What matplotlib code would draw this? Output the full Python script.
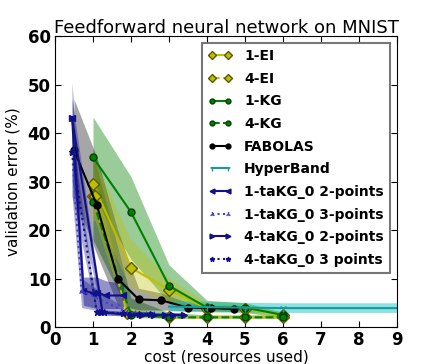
import numpy as np
import matplotlib
matplotlib.use("Agg")
import matplotlib.pyplot as plt

# values (cost, mean error, upper, lower)
ei1_x = [1, 2, 3, 4, 5, 6]
ei1_y = [29.5, 12.2, 7.7, 3.8, 3.8, 2.5]
ei1_hi = [35, 18, 10, 5, 5, 3.2]
ei1_lo = [24, 8, 5, 3, 3, 2]

ei4_x = [1, 1.05, 1.9, 3, 4, 5, 6]
ei4_y = [27, 27, 2.8, 2.0, 2.0, 2.0, 2.0]
ei4_hi = [31, 31, 4, 2.5, 2.5, 2.5, 2.5]
ei4_lo = [22, 22, 2, 1.8, 1.8, 1.8, 1.8]

kg1_x = [1, 2, 3, 4, 5, 6]
kg1_y = [35, 23.7, 8.5, 4.0, 4.0, 2.5]
kg1_hi = [43.3, 31, 12.8, 5.5, 5.0, 3.0]
kg1_lo = [27, 14, 5, 3.5, 3.0, 2.0]

kg4_x = [1, 2, 3, 4, 5, 6]
kg4_y = [25.8, 2.5, 2.0, 2.0, 2.0, 2.0]
kg4_hi = [36, 6, 3, 2.5, 2.5, 2.5]
kg4_lo = [18, 2, 1.8, 1.8, 1.8, 1.8]

fab_x = [0.5, 1.1, 1.65, 2.2, 2.8, 3.5, 4.1, 4.7]
fab_y = [36.5, 25.2, 10, 5.7, 5.5, 4.0, 3.9, 3.7]
fab_hi = [47, 35, 20, 8, 7, 5, 4.5, 4.5]
fab_lo = [27, 15, 4.5, 3.5, 3.5, 3.3, 3.3, 3.2]

hb_x = [3, 4, 5, 6, 7, 8, 9]
hb_y = [4.2, 4.1, 4.0, 3.9, 3.9, 3.9, 3.9]
hb_hi = [5.5, 5.3, 5.1, 5.0, 5.0, 5.0, 5.0]
hb_lo = [3.3, 3.2, 3.1, 3.0, 3.0, 3.0, 3.0]

tk1_2_x = [0.45, 0.75, 1.0, 1.1, 1.35, 1.8]
tk1_2_y = [43, 7.5, 7.0, 7.0, 6.5, 6.5]
tk1_2_hi = [50.5, 10.3, 10.3, 10.3, 9.5, 9.0]
tk1_2_lo = [36, 4.5, 4.0, 3.8, 3.8, 3.8]

tk1_3_x = [0.45, 0.7, 1.9, 2.1, 2.4, 2.6]
tk1_3_y = [36, 7.5, 3.0, 2.8, 2.7, 2.7]
tk1_3_hi = [42, 10, 3.5, 3.3, 3.2, 3.2]
tk1_3_lo = [27, 4, 2.3, 2.3, 2.3, 2.3]

tk4_2_x = [0.45, 1.25, 2.0, 2.3, 2.6, 2.9, 3.1, 3.4]
tk4_2_y = [43, 3.0, 2.5, 2.5, 2.5, 2.5, 2.5, 2.5]
tk4_2_hi = [47, 3.5, 3.0, 3.0, 3.0, 3.0, 3.0, 3.0]
tk4_2_lo = [30, 2.5, 2.2, 2.2, 2.2, 2.2, 2.2, 2.2]

tk4_3_x = [0.45, 1.1, 1.3, 1.8, 2.2, 2.5]
tk4_3_y = [36, 3.0, 3.0, 2.8, 2.7, 2.7]
tk4_3_hi = [40, 3.5, 3.5, 3.3, 3.2, 3.2]
tk4_3_lo = [27, 2.5, 2.5, 2.3, 2.3, 2.3]

plt.rcParams['font.family'] = 'DejaVu Sans'
plt.rcParams['xtick.direction'] = 'in'
plt.rcParams['ytick.direction'] = 'in'

fig = plt.figure(figsize=(4.41, 3.64), dpi=100)
ax = fig.add_axes([0.1247, 0.1016, 0.7755, 0.7994])

yel = '#bfbf00'
grn = '#008000'
blu = '#10108a'
tea = '#1a9a9a'

ax.fill_between(kg1_x, kg1_lo, kg1_hi, color=grn, alpha=0.4, lw=0)
ax.fill_between(kg4_x, kg4_lo, kg4_hi, color=grn, alpha=0.4, lw=0)
ax.fill_between(fab_x, fab_lo, fab_hi, color='k', alpha=0.35, lw=0)
ax.fill_between(ei1_x, ei1_lo, ei1_hi, color=yel, alpha=0.35, lw=0)
ax.fill_between(ei4_x, ei4_lo, ei4_hi, color=yel, alpha=0.35, lw=0)
ax.fill_between(hb_x, hb_lo, hb_hi, color='c', alpha=0.45, lw=0)
ax.fill_between(tk1_2_x, tk1_2_lo, tk1_2_hi, color=blu, alpha=0.45, lw=0)
ax.fill_between(tk1_3_x, tk1_3_lo, tk1_3_hi, color=blu, alpha=0.35, lw=0)
ax.fill_between(tk4_2_x, tk4_2_lo, tk4_2_hi, color=blu, alpha=0.35, lw=0)
ax.fill_between(tk4_3_x, tk4_3_lo, tk4_3_hi, color=blu, alpha=0.35, lw=0)

ax.plot(ei1_x, ei1_y, '-', color=yel, marker='D', ms=6, mfc=yel, mec='#5a5a00', label='1-EI')
ax.plot(ei4_x, ei4_y, '--', color=yel, marker='D', ms=6, mfc=yel, mec='#5a5a00', lw=1.5, label='4-EI')
ax.plot(kg1_x, kg1_y, '-', color=grn, marker='o', ms=5, mfc=grn, mec='#004000', label='1-KG')
ax.plot(kg4_x, kg4_y, '--', color=grn, marker='o', ms=5, mfc=grn, mec='#004000', lw=1.5, label='4-KG')
ax.plot(fab_x, fab_y, '-', color='k', marker='o', ms=5, label='FABOLAS')
ax.plot(hb_x, hb_y, '-', color=tea, marker='1', ms=6, markevery=[1, 2, 3], label='HyperBand')
ax.plot(tk1_2_x, tk1_2_y, '-', color=blu, marker='<', ms=5, label='1-taKG_0 2-points')
ax.plot(tk1_3_x, tk1_3_y, ':', color='#4040d0', marker='2', ms=5, label='1-taKG_0 3-points')
ax.plot(tk4_2_x, tk4_2_y, '-', color=blu, marker='>', ms=5, label='4-taKG_0 2-points')
ax.plot(tk4_3_x, tk4_3_y, ':', color=blu, marker='*', ms=5, label='4-taKG_0 3 points')

ax.set_xlim(0, 9)
ax.set_ylim(0, 60)
ax.set_xticks(range(0, 10))
ax.set_yticks(range(0, 61, 10))
ax.tick_params(top=True, right=True, length=4, labelsize=12, pad=3)
for lab in ax.get_xticklabels() + ax.get_yticklabels():
    lab.set_fontweight('bold')
ax.set_xlabel('cost (resources used)', fontsize=11, labelpad=0)
ax.set_ylabel('validation error (%)', fontsize=11, labelpad=5)
ax.set_title('Feedforward neural network on MNIST', fontsize=13, pad=2)

leg = ax.legend(loc='upper right', numpoints=2, prop={'weight': 'bold', 'size': 10},
                markerscale=0.7, fancybox=False, handlelength=1.7, handletextpad=0.9,
                labelspacing=0.62, borderaxespad=0.5, borderpad=0.45)
leg.get_frame().set_edgecolor('#555555')
leg.get_frame().set_linewidth(1.5)

fig.savefig('out.png', dpi=100)
